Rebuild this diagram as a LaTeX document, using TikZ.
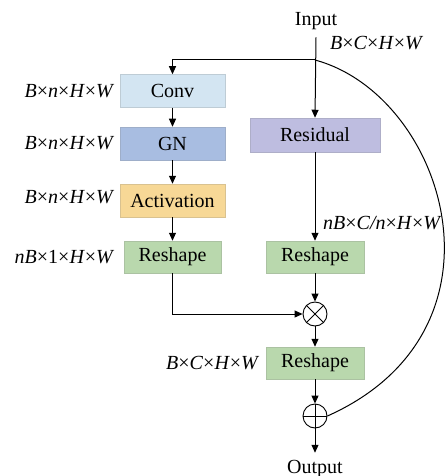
\documentclass[tikz,border=0pt]{standalone}
\usepackage{fontspec}
\setmainfont{Liberation Serif}
\usepackage{xcolor}
\usetikzlibrary{arrows.meta}
\definecolor{convc}{HTML}{D3E5F2}
\definecolor{gnc}{HTML}{A8BDE1}
\definecolor{actc}{HTML}{F7D896}
\definecolor{resc}{HTML}{B9D8AD}
\definecolor{residc}{HTML}{BEBDE0}
\newcommand{\by}{\textup{\texttimes}}
\tikzset{
  blk/.style   ={draw=#1!75!gray, fill=#1, rectangle, inner sep=0pt, line width=0.5pt,
                 minimum height=33pt, font=\fontsize{20}{24}\selectfont},
  lbl/.style   ={inner sep=0pt, font=\fontsize{20}{24}\selectfont\itshape},
  io/.style    ={inner sep=2pt, outer ysep=5pt, font=\fontsize{20}{24}\selectfont},
  op/.style    ={draw, circle, minimum size=24pt, inner sep=0pt, line width=0.9pt},
  ar/.style    ={-{Triangle[length=8pt,width=7pt]}, line width=1pt},
}
\begin{document}
\begin{tikzpicture}[x=1pt,y=-1pt]
\useasboundingbox (0,0) rectangle (445,476);
% input and split
\node[io, anchor=base] (input) at (316,26) {Input};
\coordinate (split) at (315,60);
\node[lbl, anchor=west] (lin) at (330,43) {B\by C\by H\by W};
% left branch
\node[blk=convc, minimum width=105pt] (conv) at (172.5,91) {Conv};
\node[blk=gnc, minimum width=105pt] (gn) at (172.5,143.5) {GN};
\node[blk=actc, minimum width=105pt] (act) at (172.5,200.5) {Activation};
\node[blk=resc, minimum width=97pt, minimum height=32pt] (reshl) at (172.5,257) {Reshape};
\node[lbl, anchor=east] (lconv) at (113,91) {B\by n\by H\by W};
\node[lbl, anchor=east] (lgn) at (113,143.5) {B\by n\by H\by W};
\node[lbl, anchor=east] (lact) at (113,197) {B\by n\by H\by W};
\node[lbl, anchor=east] (lreshl) at (113,257) {nB\by\textup{1}\by H\by W};
% right branch
\node[blk=residc, minimum width=130pt, minimum height=34pt] (resid) at (315,135) {Residual};
\node[blk=resc, minimum width=98pt, minimum height=32pt] (reshr) at (315,257) {Reshape};
\node[lbl, anchor=west] (lreshr) at (323,223) {nB\by C/n\by H\by W};
% merge
\node[op] (mul) at (315,314) {};
\draw[line width=0.9pt] (mul.north east) -- (mul.south west) (mul.north west) -- (mul.south east);
\node[blk=resc, minimum width=98pt, minimum height=32pt] (resho) at (315,363) {Reshape};
\node[lbl, anchor=east] (lresho) at (258,363) {B\by C\by H\by W};
\node[op] (add) at (315,416) {};
\draw[line width=0.9pt] (add.north) -- (add.south) (add.west) -- (add.east);
\node[io, anchor=base] (output) at (315,473) {Output};
% connectors
\draw[ar] (input.south) -- (resid.north);
\draw[ar] (split) -| (conv.north);
\draw[ar] (conv) -- (gn);
\draw[ar] (gn) -- (act);
\draw[ar] (act) -- (reshl);
\draw[ar] (resid) -- (reshr);
\draw[ar] (reshr) -- (mul);
\draw[ar] (reshl.south) |- (mul.west);
\draw[ar] (mul) -- (resho);
\draw[ar] (resho) -- (add);
\draw[ar] (add) -- (output.north);
\draw[line width=1pt] (split) .. controls (445,95) and (520,330) .. (add.east);
\end{tikzpicture}
\end{document}
